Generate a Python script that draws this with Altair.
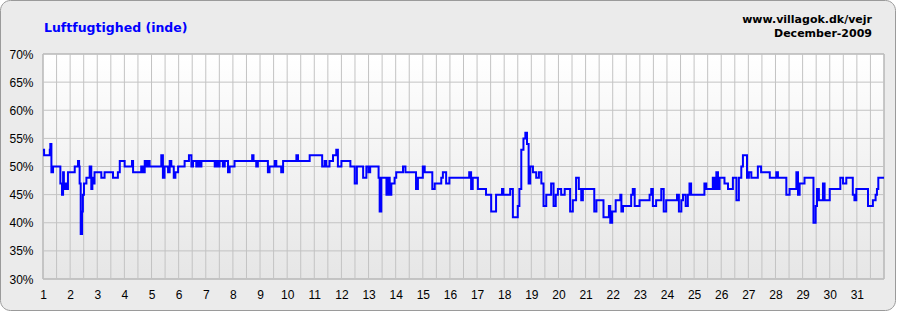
import altair as alt
import pandas as pd

title_text = ["Luftfugtighed (inde)"]
site_text = ["www.villagok.dk/vejr"]
month_text = ["December-2009"]

days = [1.00, 1.04, 1.25, 1.27, 1.31, 1.37, 1.64, 1.70, 1.74, 1.77, 1.82, 1.86, 1.92, 2.17, 2.29, 2.33, 2.35, 2.39, 2.44, 2.47,
        2.51, 2.60, 2.72, 2.78, 2.82, 2.87, 2.90, 3.15, 3.27, 3.58, 3.76, 3.83, 4.01, 4.28, 4.32, 4.62, 4.69, 4.75, 4.81, 4.87,
        4.93, 5.36, 5.42, 5.48, 5.61, 5.67, 5.73, 5.82, 5.88, 5.98, 6.22, 6.38, 6.47, 6.53, 6.65, 6.71, 6.77, 6.84, 7.33, 7.39,
        7.45, 7.51, 7.63, 7.70, 7.82, 7.88, 8.06, 8.71, 8.76, 8.86, 8.92, 9.29, 9.35, 9.54, 9.60, 9.78, 9.85, 10.34, 10.40,
        10.83, 11.29, 11.38, 11.44, 11.56, 11.69, 11.81, 11.87, 12.00, 12.33, 12.49, 12.57, 12.80, 12.92, 13.00, 13.06, 13.37,
        13.41, 13.47, 13.66, 13.72, 13.78, 13.84, 13.96, 14.02, 14.27, 14.36, 14.75, 14.82, 15.00, 15.07, 15.35, 15.44, 15.68,
        15.74, 15.86, 15.98, 16.71, 16.78, 16.84, 17.03, 17.33, 17.52, 17.70, 17.92, 17.97, 18.22, 18.32, 18.50, 18.56, 18.63,
        18.71, 18.78, 18.84, 18.90, 18.96, 19.06, 19.18, 19.28, 19.37, 19.45, 19.55, 19.73, 19.82, 19.90, 19.98, 20.10, 20.23,
        20.43, 20.53, 20.65, 20.75, 20.84, 20.90, 21.32, 21.40,
        21.66, 21.86, 21.91, 21.98, 22.11, 22.28, 22.32, 22.38, 22.68, 22.74, 22.81, 22.99, 23.36, 23.42, 23.48, 23.60, 23.79,
        23.88, 23.97, 24.37, 24.44, 24.53, 24.59, 24.69, 24.77, 24.83, 24.89, 25.38, 25.45, 25.69, 25.75, 25.82, 25.88, 25.94,
        26.12, 26.25, 26.43, 26.56, 26.65, 26.74, 26.80, 26.95, 27.02, 27.11, 27.35, 27.47, 27.79, 28.03, 28.09, 28.40, 28.52,
        28.77, 28.83, 28.89, 29.07, 29.40, 29.48, 29.53, 29.60, 29.75, 29.81, 30.00, 30.39, 30.49, 30.61, 30.85, 30.91, 30.98,
        31.41, 31.59, 31.69, 31.74, 31.79, 32.00]

rh = [53, 52, 53, 54, 49, 50, 47, 45, 49, 46, 47, 46, 49, 50, 51, 50, 47, 38, 42, 45,
      47, 48, 50, 46, 48, 47, 49, 48, 49, 48, 49, 51, 50, 51, 49, 50, 49, 51, 50, 51,
      50, 52, 48, 50, 49, 51, 50, 48, 49, 50, 51, 52, 50, 51, 50, 51, 50, 51, 50, 51,
      50, 51, 50, 51, 49, 50, 51, 52, 51, 50, 51, 49, 50, 51, 50, 49, 51, 52, 51,
      52, 50, 51, 50, 51, 52, 53, 50, 51, 50, 47, 50, 48, 50, 49, 50, 48,
      42, 48, 45, 48, 45, 47, 48, 49, 50, 49, 46, 48, 50, 49, 46, 47, 48,
      49, 47, 48, 49, 46, 48, 46, 45, 42, 45, 46, 45, 46, 41, 43, 46, 53,
      55, 56, 54, 47, 50, 49, 48, 49, 47, 43, 45, 47, 43, 45, 46, 45, 46,
      42, 44, 48, 46, 44, 46, 42, 44,
      41, 43, 40, 42, 44, 45, 42, 43, 45, 46, 43, 44, 45, 46, 43, 44, 46,
      42, 44, 45, 42, 44, 45, 43, 45, 47, 45, 47, 46, 48, 46, 49, 46, 48,
      47, 46, 48, 44, 48, 50, 52, 48, 49, 48, 50, 49, 48, 49, 48, 45, 46,
      49, 45, 47, 48, 40, 43, 46, 44, 47, 44, 46, 48, 47, 48, 45, 44, 46,
      43, 44, 45, 46, 48, 48]

y_ticks = [30, 35, 40, 45, 50, 55, 60, 65, 70]
x_labels = list(range(1, 32))
x_grid = [1 + 0.5 * i for i in range(63)]

W, H = 841, 225
xs = alt.Scale(domain=[1, 32], nice=False, zero=False)
ys = alt.Scale(domain=[30, 70], nice=False, zero=False)

x_axis = alt.Axis(
    values=x_labels, format="d", title=None, grid=False, ticks=False, tickSize=0,
    labelPadding=10, domain=False, labelFontSize=12, labelFont="Liberation Sans",
    labelColor="#000000", labelFlush=False, labelOverlap=False, zindex=1)
y_axis = alt.Axis(
    values=y_ticks, labelExpr="datum.value + '%'", title=None, grid=False, ticks=False,
    tickSize=0, labelPadding=10, domain=False, labelFontSize=12, labelFont="Liberation Sans",
    labelColor="#000000", labelOverlap=False, zindex=1)

one = pd.DataFrame({"a": [0]})

frame = alt.Chart(one).mark_rect(
    fill="#ebebeb", stroke="#9a9a9a", strokeWidth=1, cornerRadius=10
).encode(x=alt.value(-42.5), x2=alt.value(852.5), y=alt.value(-53.5), y2=alt.value(256.5))

plot_bg = alt.Chart(one).mark_rect(
    fill=alt.Gradient(
        gradient="linear",
        stops=[alt.GradientStop(color="#ffffff", offset=0),
               alt.GradientStop(color="#e6e6e6", offset=1)],
        x1=0, x2=0, y1=0, y2=1),
    stroke="#a0a0a0", strokeWidth=1
).encode(x=alt.value(0), x2=alt.value(W), y=alt.value(0), y2=alt.value(H))

xgrid = alt.Chart(pd.DataFrame({"g": x_grid})).mark_rule(color="#c3c3c3", strokeWidth=1).encode(
    x=alt.X("g:Q", scale=xs, axis=x_axis))
ygrid = alt.Chart(pd.DataFrame({"g": y_ticks})).mark_rule(color="#c3c3c3", strokeWidth=1).encode(
    y=alt.Y("g:Q", scale=ys, axis=y_axis))

df = pd.DataFrame({"day": days, "rh": rh})
line = alt.Chart(df).mark_line(interpolate="step-after", color="#0000ff", strokeWidth=2).encode(
    x=alt.X("day:Q", scale=xs, axis=x_axis),
    y=alt.Y("rh:Q", scale=ys, axis=y_axis),
)

title = alt.Chart(pd.DataFrame({"t": title_text})).mark_text(
    align="left", baseline="alphabetic", font="DejaVu Sans", fontWeight="bold", fontSize=12.5, color="#0000ff"
).encode(x=alt.value(1), y=alt.value(-22.5), text="t:N")

site = alt.Chart(pd.DataFrame({"t": site_text})).mark_text(
    align="right", baseline="alphabetic", font="DejaVu Sans", fontWeight="bold", fontSize=11, color="#000000"
).encode(x=alt.value(829), y=alt.value(-31.5), text="t:N")

month = alt.Chart(pd.DataFrame({"t": month_text})).mark_text(
    align="right", baseline="alphabetic", font="DejaVu Sans", fontWeight="bold", fontSize=11, color="#000000"
).encode(x=alt.value(829), y=alt.value(-17), text="t:N")

chart = alt.layer(frame, plot_bg, xgrid, ygrid, line, title, site, month).properties(
    width=W, height=H,
    autosize=alt.AutoSizeParams(type="none"),
    padding={"left": 43, "top": 54, "right": 13, "bottom": 33},
    background="#ffffff",
).configure_view(stroke=None)

chart.save("out.html", embed_options={"renderer": "svg", "actions": False})
